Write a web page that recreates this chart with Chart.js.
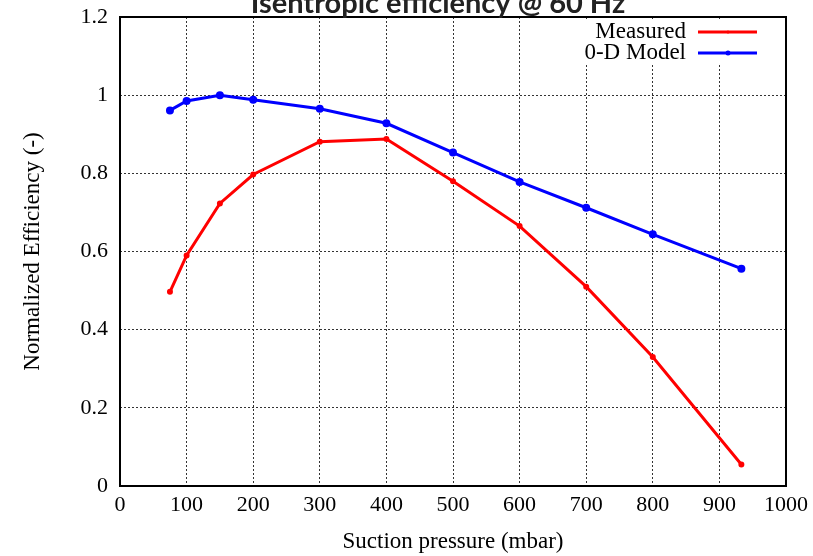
<!DOCTYPE html>
<html>
<head>
<meta charset="utf-8">
<script src="https://cdn.jsdelivr.net/npm/chart.js@4/dist/chart.umd.min.js"></script>
<style>
  html, body { margin: 0; padding: 0; background: #fff; }
  #wrap { width: 813px; height: 556px; }
</style>
</head>
<body>
<div id="wrap"><canvas id="chartEff"></canvas></div>
<script>
// Suction pressure (mbar) and normalized efficiency values
const pressureMeasured = [75, 100, 150, 200, 300, 400, 500, 600, 700, 800, 933];
const effMeasured      = [0.497, 0.59, 0.723, 0.797, 0.881, 0.888, 0.78, 0.665, 0.51, 0.33, 0.055];
const pressureModel    = [75, 100, 150, 200, 300, 400, 500, 600, 700, 800, 933];
const effModel         = [0.961, 0.985, 1.0, 0.988, 0.965, 0.928, 0.853, 0.778, 0.712, 0.644, 0.556];
const xTicks = [0, 100, 200, 300, 400, 500, 600, 700, 800, 900, 1000];
const yTicks = [0, 0.2, 0.4, 0.6, 0.8, 1, 1.2];

const toPoints = (xs, ys) => xs.map((x, i) => ({ x: x, y: ys[i] }));

const serif = '"Liberation Serif", "Times New Roman", serif';

// frame, title and in-plot legend
const decorPlugin = {
    id: 'decor',
    afterDraw(chart) {
        const ctx = chart.ctx;
        const a = chart.chartArea;
        ctx.save();

        // legend box blanks the grid behind it
        ctx.fillStyle = '#fff';
        ctx.fillRect(582, 21, 182, 43);

        ctx.strokeStyle = '#000';
        ctx.lineWidth = 2;
        ctx.strokeRect(a.left, a.top, a.right - a.left, a.bottom - a.top);

        // title sits half above the canvas edge
        ctx.fillStyle = '#222';
        ctx.font = 'bold 29px Lato, "Open Sans", sans-serif';
        ctx.textAlign = 'center';
        ctx.textBaseline = 'alphabetic';
        ctx.fillText('Isentropic efficiency @ 60 Hz', 438, 13);

        // legend
        const items = chart.data.datasets;
        ctx.font = '23px ' + serif;
        ctx.textAlign = 'right';
        ctx.textBaseline = 'middle';
        items.forEach((ds, i) => {
            const y = 32 + i * 21;
            ctx.fillStyle = '#000';
            ctx.fillText(ds.label, 686, y);
            ctx.strokeStyle = ds.borderColor;
            ctx.lineWidth = 3;
            ctx.beginPath();
            ctx.moveTo(698, y);
            ctx.lineTo(757, y);
            ctx.stroke();
            ctx.fillStyle = ds.borderColor;
            ctx.beginPath();
            ctx.arc(728, y, ds.pointRadius, 0, Math.PI * 2);
            ctx.fill();
        });
        ctx.restore();
    }
};

new Chart(document.getElementById('chartEff').getContext('2d'), {
    type: 'scatter',
    data: {
        datasets: [
            {
                label: 'Measured',
                data: toPoints(pressureMeasured, effMeasured),
                showLine: true,
                borderColor: '#ff0000',
                backgroundColor: '#ff0000',
                borderWidth: 3,
                pointRadius: 1.5,
                tension: 0
            },
            {
                label: '0-D Model',
                data: toPoints(pressureModel, effModel),
                showLine: true,
                borderColor: '#0000ff',
                backgroundColor: '#0000ff',
                borderWidth: 3,
                pointRadius: 2.5,
                tension: 0
            }
        ]
    },
    options: {
        responsive: true,
        maintainAspectRatio: false,
        animation: false,
        layout: { padding: { top: 17, right: 27, left: 0, bottom: 0 } },
        plugins: {
            legend: { display: false },
            title: { display: false },
            tooltip: { enabled: false }
        },
        scales: {
            x: {
                type: 'linear',
                min: 0,
                max: 1000,
                afterBuildTicks: s => { s.ticks = xTicks.map(v => ({ value: v })); },
                afterFit: s => { s.height = 70; s.paddingLeft = 0; s.paddingRight = 0; },
                ticks: {
                    color: '#000',
                    padding: 6,
                    font: { family: serif, size: 22 },
                    callback: v => String(v)
                },
                grid: {
                    color: '#333',
                    lineWidth: 1,
                    drawTicks: false
                },
                border: { display: false, dash: [2, 2] },
                title: {
                    display: true,
                    text: 'Suction pressure (mbar)',
                    color: '#000',
                    font: { family: serif, size: 23 },
                    padding: { top: 0, bottom: 0 }
                }
            },
            y: {
                min: 0,
                max: 1.2,
                afterBuildTicks: s => { s.ticks = yTicks.map(v => ({ value: v })); },
                afterFit: s => { s.width = 120; s.paddingTop = 0; s.paddingBottom = 0; },
                ticks: {
                    color: '#000',
                    padding: 12,
                    font: { family: serif, size: 22 },
                    callback: v => String(+v.toFixed(1))
                },
                grid: {
                    color: '#333',
                    lineWidth: 1,
                    drawTicks: false
                },
                border: { display: false, dash: [2, 2] },
                title: {
                    display: true,
                    text: 'Normalized Efficiency (-)',
                    color: '#000',
                    font: { family: serif, size: 23 },
                    padding: { top: 19, bottom: 0 }
                }
            }
        }
    },
    plugins: [decorPlugin]
});
</script>
</body>
</html>
